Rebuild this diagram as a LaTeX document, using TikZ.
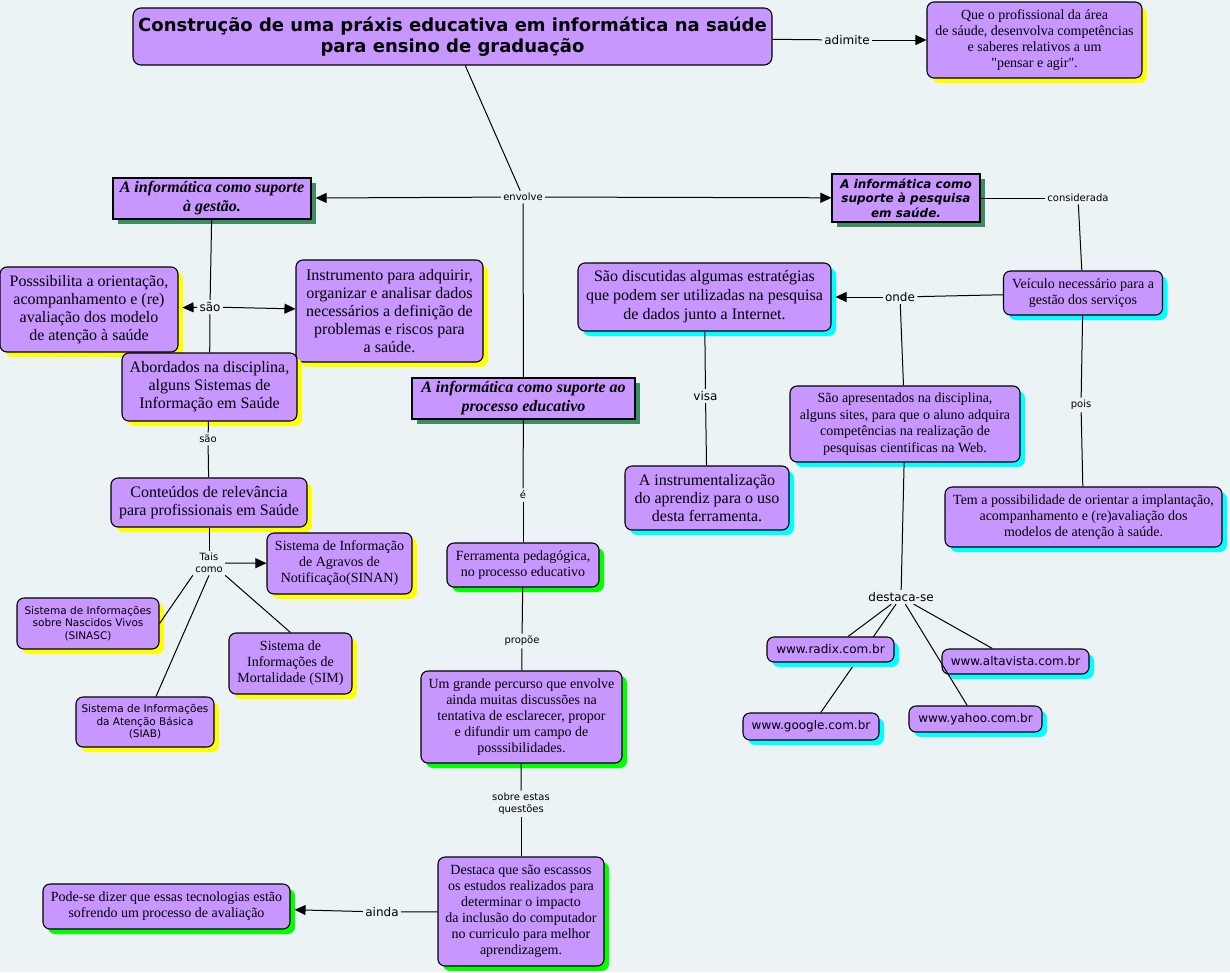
\documentclass[tikz,border=0pt]{standalone}
\usepackage{fontspec}
\setmainfont{Liberation Serif}
\newfontfamily\rawserif{Liberation Serif}[Ligatures=TeXOff]
\newfontfamily\vsans{DejaVu Sans}
\usetikzlibrary{arrows.meta,shadows}
\definecolor{bgcol}{RGB}{236,243,245}
\definecolor{lilac}{RGB}{200,150,255}
\definecolor{headshade}{RGB}{60,140,100}
\definecolor{aqua}{RGB}{0,255,255}
\definecolor{lime}{RGB}{0,255,0}
\definecolor{lemon}{RGB}{255,255,0}
\newcommand\setfs[2]{\fontsize{#1}{#2}\selectfont}
\tikzset{
  wh/.style 2 args={minimum width=#1pt, minimum height=#2pt},
  box/.style={draw, line width=1.1pt, fill=lilac, rounded corners=7pt, inner sep=0pt, align=center},
  ybox/.style={box, drop shadow={shadow xshift=5pt, shadow yshift=-5pt, fill=lemon, opacity=1}},
  cbox/.style={box, drop shadow={shadow xshift=5pt, shadow yshift=-5pt, fill=aqua, opacity=1}},
  gbox/.style={box, drop shadow={shadow xshift=5pt, shadow yshift=-5pt, fill=lime, opacity=1}},
  head/.style={draw, line width=1.1pt, fill=lilac, inner sep=0pt, align=center,
    drop shadow={shadow xshift=5pt, shadow yshift=-5pt, fill=headshade, opacity=1}},
  lbl/.style={font={\vsans\setfs{12}{14}}, inner sep=2pt, align=center},
  slbl/.style={font={\vsans\setfs{10}{12}}, inner sep=2pt, align=center},
  arr/.style={-{Triangle[length=11pt,width=10pt]}},
}
\begin{document}
\begin{tikzpicture}[x=1pt,y=-1pt,line width=1pt]
  \fill[bgcol] (0,0) rectangle (1230,972);
  \useasboundingbox (0,0) rectangle (1230,972);

  % top
  \node[box, rounded corners=8pt, wh={639}{57}, font={\vsans\bfseries\setfs{18}{21}}] (title) at (452.5,36.5)
    {Construção de uma práxis educativa em informática na saúde\\para ensino de graduação};
  \node[ybox, wh={215}{76}, font={\setfs{14}{16}}] (pensar) at (1034.5,40)
    {Que o profissional da área\\de sáude, desenvolva competências\\e saberes relativos a um\\{\rawserif "}pensar e agir{\rawserif "}.};
  \node[lbl] (adimite) at (847,40) {adimite};
  \node[slbl] (envolve) at (523,197) {envolve};

  % three branches
  \node[head, wh={198}{41}, font={\bfseries\itshape\setfs{16}{19}}] (gestao) at (212,198.5)
    {A informática como suporte\\à gestão.};
  \node[head, wh={148}{48}, font={\vsans\bfseries\itshape\setfs{12}{14.5}}] (pesquisa) at (906,198)
    {A informática como\\suporte à pesquisa\\em saúde.};
  \node[head, wh={223}{41}, font={\bfseries\itshape\setfs{16}{19}}] (educ) at (523.5,398.5)
    {A informática como suporte ao\\processo educativo};

  % gestao branch
  \node[lbl] (sao) at (210,307) {são};
  \node[ybox, wh={178}{85}, font={\setfs{16}{18}}] (possib) at (89,309.5)
    {Posssibilita a orientação,\\acompanhamento e (re)\\avaliação dos modelo\\de atenção à saúde};
  \node[ybox, wh={187}{102}, font={\setfs{16}{18}}] (instrum) at (389.5,311)
    {Instrumento para adquirir,\\organizar e analisar dados\\necessários a definição de\\problemas e riscos para\\a saúde.};
  \node[ybox, wh={175}{68}, font={\setfs{16}{18}}] (abord) at (209.5,387)
    {Abordados na disciplina,\\alguns Sistemas de\\Informação em Saúde};
  \node[slbl] (sao2) at (208,439) {são};
  \node[ybox, wh={196}{49}, font={\setfs{16}{18}}] (conteud) at (209,502.5)
    {Conteúdos de relevância\\para profissionais em Saúde};
  \node[slbl] (tais) at (209,563) {Tais\\como};
  \node[ybox, wh={145}{61}, font={\setfs{14}{16}}] (sinan) at (339.5,563.5)
    {Sistema de Informação\\de Agravos de\\Notificação(SINAN)};
  \node[ybox, wh={142}{51}, font={\vsans\setfs{10.5}{12.5}}] (sinasc) at (88,623.5)
    {Sistema de Informações\\sobre Nascidos Vivos\\(SINASC)};
  \node[ybox, wh={123}{61}, font={\setfs{14}{16}}] (sim) at (290.5,663.5)
    {Sistema de\\Informações de\\Mortalidade (SIM)};
  \node[ybox, wh={138}{50}, font={\vsans\setfs{10.5}{12.5}}] (siab) at (145,722)
    {Sistema de Informações\\da Atenção Básica\\(SIAB)};

  % educativo branch
  \node[slbl] (eh) at (523,495) {é};
  \node[gbox, wh={152}{44}, font={\setfs{14}{16}}] (ferram) at (523,565)
    {Ferramenta pedagógica,\\no processo educativo};
  \node[slbl] (propoe) at (522,641) {propõe};
  \node[gbox, wh={201}{92}, font={\setfs{14}{16}}] (percurso) at (521.5,717)
    {Um grande percurso que envolve\\ainda muitas discussões na\\tentativa de esclarecer, propor\\e difundir um campo de\\posssibilidades.};
  \node[slbl] (sobre) at (521,804) {sobre estas\\questões};
  \node[gbox, wh={166}{109}, font={\setfs{14}{16}}] (escassos) at (521,911.5)
    {Destaca que são escassos\\os estudos realizados para\\determinar o impacto\\da inclusão do computador\\no curriculo para melhor\\aprendizagem.};
  \node[lbl] (ainda) at (382,912) {ainda};
  \node[gbox, wh={247}{45}, font={\setfs{14}{16}}] (avalia) at (166.5,906.5)
    {Pode-se dizer que essas tecnologias estão\\sofrendo um processo de avaliação};

  % pesquisa branch
  \node[slbl] (consid) at (1078,198) {considerada};
  \node[cbox, wh={159}{44}, font={\setfs{14}{16}}] (veiculo) at (1083,293)
    {Veículo necessário para a\\gestão dos serviços};
  \node[lbl] (onde) at (900,297) {onde};
  \node[cbox, wh={253}{68}, font={\setfs{16}{19}}] (discut) at (704.5,297)
    {São discutidas algumas estratégias\\que podem ser utilizadas na pesquisa\\de dados junto a Internet.};
  \node[lbl] (visa) at (705.5,396) {visa};
  \node[cbox, wh={164}{64}, font={\setfs{16}{18}}] (aprendiz) at (707,498)
    {A instrumentalização\\do aprendiz para o uso\\desta ferramenta.};
  \node[cbox, wh={230}{76}, font={\setfs{14}{16.5}}] (sites) at (905,424)
    {São apresentados na disciplina,\\alguns sites, para que o aluno adquira\\competências na realização de\\pesquisas cientificas na Web.};
  \node[slbl] (pois) at (1081,405) {pois};
  \node[cbox, wh={277}{60}, font={\setfs{14}{16}}] (implant) at (1083.5,517)
    {Tem a possibilidade de orientar a implantação,\\acompanhamento e (re)avaliação dos\\modelos de atenção à saúde.};
  \node[lbl] (destse) at (901,597) {destaca-se};
  \node[cbox, wh={136}{27}, font={\vsans\setfs{12}{14}}] (google) at (811,726.5) {www.google.com.br};
  \draw (destse) -- (google);
  \node[cbox, wh={127}{25}, font={\vsans\setfs{12}{14}}] (radix) at (830.5,649.5) {www.radix.com.br};
  \node[cbox, wh={147}{25}, font={\vsans\setfs{12}{14}}] (altavista) at (1015.5,661.5) {www.altavista.com.br};
  \node[cbox, wh={133}{26}, font={\vsans\setfs{12}{14}}] (yahoo) at (975.5,719) {www.yahoo.com.br};

  % links
  \draw (title) -- (adimite);
  \draw[arr] (adimite) -- (pensar);
  \draw (title) -- (envolve);
  \draw[arr, shorten >=4pt] (envolve) -- (gestao);
  \draw[arr] (envolve) -- (pesquisa);
  \draw (envolve) -- (educ);
  \draw (gestao) -- (sao);
  \draw[arr, shorten >=4pt] (sao) -- (possib);
  \draw[arr] (sao) -- (instrum);
  \draw (sao) -- (abord);
  \draw (abord) -- (sao2);
  \draw (sao2) -- (conteud);
  \draw (conteud) -- (tais);
  \draw[arr] (tais) -- (sinan);
  \draw (tais.south west) -- (sinasc.east);
  \draw (tais.south) -- ([xshift=11pt]siab.north);
  \draw (tais.south east) -- (sim.north);
  \draw (educ) -- (eh);
  \draw (eh) -- (ferram);
  \draw (ferram) -- (propoe);
  \draw (propoe) -- (percurso);
  \draw (percurso) -- (sobre);
  \draw (sobre) -- (escassos);
  \draw (escassos) -- (ainda);
  \draw[arr, shorten >=4pt] (ainda) -- (avalia);
  \draw (pesquisa) -- (consid);
  \draw (consid) -- (veiculo);
  \draw (veiculo) -- (onde);
  \draw[arr, shorten >=4pt] (onde) -- (discut);
  \draw (onde) -- (sites);
  \draw (discut) -- (visa);
  \draw (visa) -- (aprendiz);
  \draw (veiculo) -- (pois);
  \draw (pois) -- (implant);
  \draw (sites) -- (destse);
  \draw (destse) -- (radix);
  \draw (destse) -- (altavista);
  \draw (destse) -- (yahoo);
\end{tikzpicture}
\end{document}
